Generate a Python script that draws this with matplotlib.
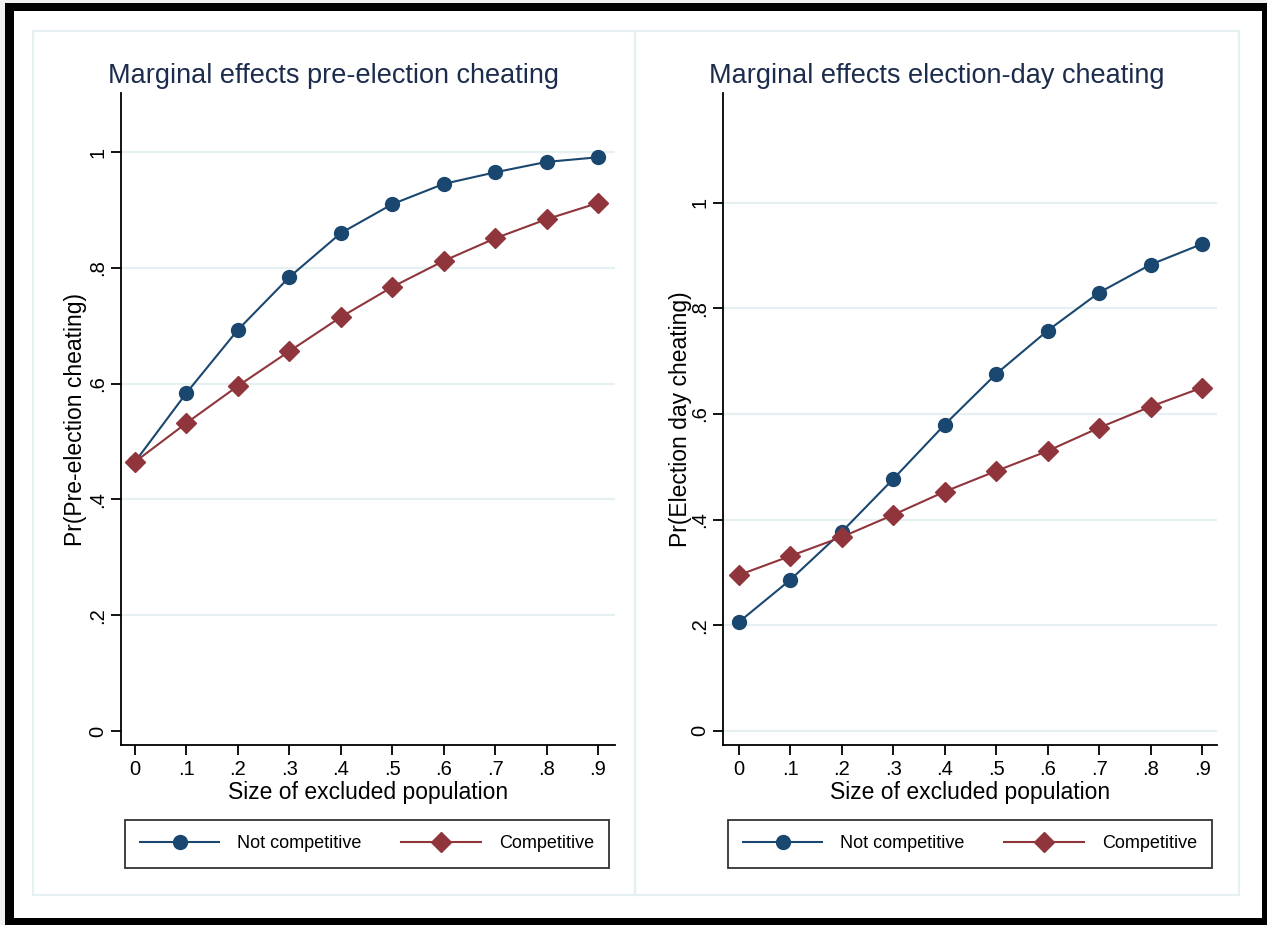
import matplotlib
matplotlib.use("Agg")
import matplotlib.pyplot as plt
from matplotlib.patches import Rectangle

plt.rcParams['font.family'] = ['Liberation Sans', 'DejaVu Sans']

# data
x_vals = [0, .1, .2, .3, .4, .5, .6, .7, .8, .9]
x_ticklabels = ['0', '.1', '.2', '.3', '.4', '.5', '.6', '.7', '.8', '.9']
y_ticks = [0, .2, .4, .6, .8, 1]
y_ticklabels = ['0', '.2', '.4', '.6', '.8', '1']

pre_notcomp = [0.465, 0.584, 0.693, 0.784, 0.860, 0.910, 0.945, 0.965, 0.983, 0.991]
pre_comp = [0.465, 0.532, 0.596, 0.656, 0.715, 0.767, 0.812, 0.851, 0.884, 0.912]
day_notcomp = [0.206, 0.286, 0.377, 0.477, 0.580, 0.676, 0.758, 0.830, 0.883, 0.922]
day_comp = [0.295, 0.331, 0.367, 0.409, 0.453, 0.492, 0.530, 0.574, 0.614, 0.650]

BLUE = '#1a476f'
RED = '#90353b'
NAVY = '#1c2c4c'
GRID = '#e6eff1'

W, H = 1267, 925
def fx(x): return x / W
def fy(y): return 1 - y / H

fig = plt.figure(figsize=(W / 100, H / 100), dpi=100)
fig.patch.set_facecolor('#f0f0f0')

def rect(x0, y0, x1, y1, **kw):
    r = Rectangle((fx(x0), fy(y1)), fx(x1) - fx(x0), fy(y0) - fy(y1),
                  transform=fig.transFigure, **kw)
    fig.add_artist(r)

# black border + white page + light panel frames
rect(5, 3, 1275, 935, facecolor='black', edgecolor='none', zorder=-10)
rect(14, 11, 1262, 918, facecolor='white', edgecolor='none', zorder=-9)
rect(33, 31, 635, 895, facecolor='none', edgecolor=GRID, lw=1.6, zorder=-8)
rect(635, 31, 1239, 895, facecolor='none', edgecolor=GRID, lw=1.6, zorder=-8)

panels = [
    dict(box=(121, 615), xlim=(-0.0272, 0.933), ylim=(-0.024, 1.102),
         grid=[.2, .4, .6, .8, 1], nc=pre_notcomp, c=pre_comp,
         title='Marginal effects pre-election cheating', tx=334,
         ylabel='Pr(Pre-election cheating)', ylx=-0.068, legx=367),
    dict(box=(723, 1217), xlim=(-0.031, 0.929), ylim=(-0.027, 1.208),
         grid=[0, .2, .4, .6, .8, 1], nc=day_notcomp, c=day_comp,
         title='Marginal effects election-day cheating', tx=937,
         ylabel='Pr(Election day cheating)', ylx=-0.062, legx=970),
]

for p in panels:
    x0, x1 = p['box']
    ax = fig.add_axes([fx(x0), fy(745), fx(x1) - fx(x0), fy(93) - fy(745)])
    ax.set_facecolor('none')
    for g in p['grid']:
        ax.axhline(g, color=GRID, lw=1.6, zorder=0)
    l1, = ax.plot(x_vals, p['nc'], color=BLUE, lw=1.5, marker='o', ms=10,
                  label='Not competitive', zorder=3)
    l2, = ax.plot(x_vals, p['c'], color=RED, lw=1.5, marker='D', ms=10,
                  label='Competitive', zorder=3)
    ax.set_xlim(*p['xlim'])
    ax.set_ylim(*p['ylim'])
    ax.set_xticks(x_vals)
    ax.set_xticklabels(x_ticklabels, fontsize=14.5)
    ax.set_yticks(y_ticks)
    ax.set_yticklabels(y_ticklabels, fontsize=14.5, rotation=90, va='center')
    ax.tick_params(axis='x', length=7, width=1.3, pad=4)
    ax.tick_params(axis='y', length=7, width=1.3, pad=3)
    for s in ['top', 'right']:
        ax.spines[s].set_visible(False)
    for s in ['left', 'bottom']:
        ax.spines[s].set_linewidth(1.3)
    ax.set_xlabel('Size of excluded population', fontsize=16.5, labelpad=1)
    ax.set_ylabel(p['ylabel'], fontsize=16.5)
    ax.yaxis.set_label_coords(p['ylx'], 0.5)
    fig.text(fx(p['tx']), fy(83), p['title'], fontsize=19.5, color=NAVY,
             ha='center', va='baseline')
    leg = ax.legend(handles=[l1, l2], loc='center', ncol=2,
                    bbox_to_anchor=(fx(p['legx']), fy(844)),
                    bbox_transform=fig.transFigure, fontsize=13,
                    frameon=True, fancybox=False, edgecolor='black',
                    handlelength=4.4, handletextpad=1.0, columnspacing=2.2,
                    borderpad=0.85, borderaxespad=0)
    leg.get_frame().set_linewidth(1.3)

fig.savefig('out.png', dpi=100, facecolor=fig.get_facecolor())
